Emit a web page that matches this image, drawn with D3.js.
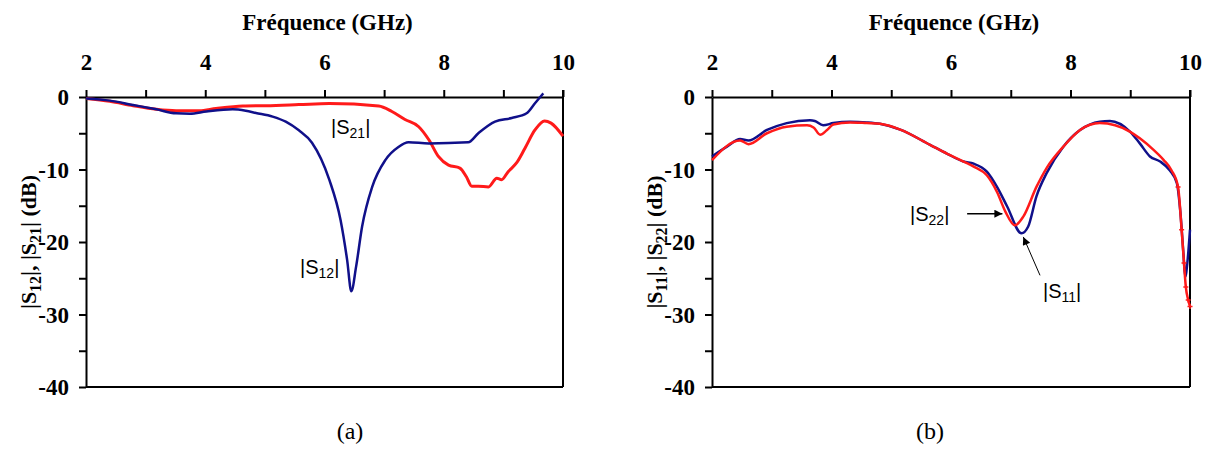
<!DOCTYPE html>
<html><head><meta charset="utf-8">
<script src="https://cdn.jsdelivr.net/npm/d3@7"></script>
<style>body{margin:0;background:#fff}</style>
</head><body>
<script>
// ---- data ----
const freqTicks = [2,3,4,5,6,7,8,9,10];
const dbTicks = [-40,-35,-30,-25,-20,-15,-10,-5,0];
const panelLabels = ["(a)","(b)"];
const axisTitle = "Fréquence (GHz)";

// (a) |S12| (blue)
const s12F = [2.0,2.4,2.79,3.18,3.51,3.74,4.02,4.46,4.68,4.85,5.13,5.35,5.57,5.79,6.08,6.27,6.38,6.45,6.53,6.63,6.80,7.02,7.24,7.41,7.75,8.41,8.58,8.86,9.14,9.39,9.53,9.67];
const s12V = [-0.2,-0.5,-1.1,-1.7,-2.25,-2.3,-2.0,-1.7,-1.9,-2.2,-2.7,-3.4,-4.6,-6.3,-11.4,-17.0,-22.5,-26.8,-23.4,-17.9,-12.4,-8.7,-6.9,-6.25,-6.4,-6.25,-5.0,-3.4,-2.9,-2.25,-0.87,0.5];
// (a) |S21| (red)
const s21F = [2.0,2.4,2.79,3.18,3.51,3.9,4.18,4.63,5.02,5.57,6.08,6.91,7.13,7.35,7.58,7.75,7.91,8.08,8.27,8.38,8.47,8.58,8.75,8.89,8.97,9.08,9.22,9.36,9.53,9.69,9.80,10.0];
const s21V = [-0.2,-0.6,-1.2,-1.7,-1.9,-1.9,-1.6,-1.25,-1.2,-1.05,-0.9,-1.24,-2.0,-3.1,-4.1,-5.9,-8.2,-9.4,-9.8,-11.0,-12.3,-12.3,-12.4,-11.2,-11.4,-10.3,-9.1,-7.1,-4.55,-3.3,-3.6,-5.4];
// (b) |S11| (blue)
const s11F = [2.0,2.25,2.47,2.61,2.92,3.25,3.64,3.72,3.86,4.03,4.31,4.59,4.81,5.15,5.65,5.93,6.21,6.38,6.60,6.77,6.94,7.18,7.29,7.43,7.60,7.88,8.16,8.49,8.66,9.0,9.16,9.33,9.50,9.66,9.78,9.84,9.89,9.92,9.96,10.0];
const s11V = [-8.2,-6.85,-5.8,-6.0,-4.55,-3.6,-3.2,-3.3,-3.9,-3.6,-3.4,-3.5,-3.7,-4.5,-6.6,-7.8,-8.9,-9.2,-10.3,-12.4,-15.1,-18.8,-17.9,-13.7,-10.5,-6.85,-4.55,-3.4,-3.3,-4.8,-6.4,-8.2,-8.9,-10.1,-11.9,-16.0,-21.6,-24.8,-22.5,-18.3];
// (b) |S22| (red)
const s22F = [2.0,2.47,2.61,2.92,3.25,3.59,3.70,3.81,3.92,4.03,4.31,4.59,4.81,5.15,5.65,5.93,6.21,6.38,6.60,6.77,6.91,7.07,7.21,7.43,7.60,7.88,8.16,8.49,9.0,9.16,9.39,9.56,9.69,9.80,9.86,9.90,9.93,9.97,10.0];
const s22V = [-8.7,-6.0,-6.5,-5.0,-4.1,-3.9,-4.2,-5.2,-4.6,-3.8,-3.5,-3.6,-3.7,-4.5,-6.6,-7.8,-8.9,-9.6,-10.8,-13.1,-15.8,-17.7,-16.5,-12.4,-9.8,-6.85,-4.55,-3.6,-4.8,-5.7,-7.3,-8.7,-10.1,-12.4,-18.3,-22.9,-26.2,-28.0,-28.9];

const blue = "#10108a", red = "#ff1a1a";
const W = 1211, H = 450;
const svg = d3.select("body").append("svg").attr("width", W).attr("height", H);
const serif = '"Liberation Serif"';
const sans = '"Liberation Sans"';

const y = d3.scaleLinear().domain([-40, 0]).range([387, 97]);

function panel(x0, x1, series, yTitleParts, panelLabel, labelX) {
  const x = d3.scaleLinear().domain([2, 10]).range([x0, x1]);
  const g = svg.append("g");
  g.append("line").attr("x1", x1).attr("x2", x1).attr("y1", y(0) - 7).attr("y2", y(-40)).attr("stroke", "#000").attr("stroke-width", 2);
  g.append("line").attr("x1", x0).attr("x2", x1).attr("y1", y(-40)).attr("y2", y(-40)).attr("stroke", "#000").attr("stroke-width", 2);
  const ax = g.append("g").attr("transform", `translate(0,${y(0)})`)
    .call(d3.axisTop(x).tickValues(freqTicks).tickSize(7).tickSizeOuter(0).tickPadding(20)
      .tickFormat(d => d % 2 === 0 ? d : ""));
  const ay = g.append("g").attr("transform", `translate(${x0},0)`)
    .call(d3.axisLeft(y).tickValues(dbTicks).tickSize(7).tickSizeOuter(0).tickPadding(10)
      .tickFormat(d => d % 10 === 0 ? d : ""));
  [ax, ay].forEach(a => {
    a.attr("font-family", null).attr("font-size", null);
    a.select(".domain").attr("stroke", "#000").attr("stroke-width", 2);
    a.selectAll(".tick line").attr("stroke", "#000").attr("stroke-width", 2);
    a.selectAll(".tick text").style("font-family", serif).style("font-weight", "bold")
      .style("font-size", "23px").attr("fill", "#000");
  });
  ay.selectAll(".tick text").attr("dy", "0.34em");
  g.append("text").attr("x", (x0 + x1) / 2 + 3).attr("y", 30).attr("text-anchor", "middle")
    .style("font-family", serif).style("font-weight", "bold").style("font-size", "23px").text(axisTitle);
  const yt = g.append("text").attr("transform", `translate(${x0 - 50},${(y(0) + y(-40)) / 2}) rotate(-90)`)
    .attr("text-anchor", "middle").style("font-family", serif).style("font-weight", "bold").style("font-size", "22px");
  yTitleParts.forEach(p => {
    yt.append("tspan").style("font-size", p.sub ? "16px" : "22px").attr("dy", p.sub ? 5 : (p.after ? -5 : 0)).text(p.t);
  });
  g.append("text").attr("x", labelX).attr("y", 439).attr("text-anchor", "middle")
    .style("font-family", serif).style("font-size", "24px").text(panelLabel);
  const line = d3.line().x(d => x(d[0])).y(d => y(d[1])).curve(d3.curveMonotoneX);
  series.forEach(s => {
    g.append("path").datum(d3.zip(s.f, s.v)).attr("d", line).attr("fill", "none")
      .attr("stroke", s.color).attr("stroke-width", s.w).attr("stroke-linejoin", "round");
    if (s.markFrom) {
      d3.zip(s.f, s.v).filter(d => d[0] >= s.markFrom).forEach(d => {
        g.append("path").attr("transform", `translate(${x(d[0])},${y(d[1])})`)
          .attr("d", "M-2.5,0H2.5M0,-2.5V2.5").attr("stroke", s.color).attr("stroke-width", 1.5);
      });
    }
  });
  return {g, x};
}

function label(g, xx, yy, main, sub) {
  const t = g.append("text").attr("x", xx).attr("y", yy).style("font-family", sans)
    .style("font-size", "20px").attr("fill", "#000");
  t.append("tspan").text("|" + main);
  t.append("tspan").style("font-size", "14px").attr("dy", 4).text(sub);
  t.append("tspan").attr("dy", -4).text("|");
  return t;
}

const yA = [{t:"|S"},{t:"12",sub:true},{t:"|, |S",after:true},{t:"21",sub:true},{t:"| (dB)",after:true}];
const yB = [{t:"|S"},{t:"11",sub:true},{t:"|, |S",after:true},{t:"22",sub:true},{t:"| (dB)",after:true}];

const pa = panel(86, 563, [
  {f: s21F, v: s21V, color: red, w: 3},
  {f: s12F, v: s12V, color: blue, w: 2.5}
], yA, panelLabels[0], 350);
const pb = panel(712, 1190, [
  {f: s11F, v: s11V, color: blue, w: 2.5},
  {f: s22F, v: s22V, color: red, w: 2.5, markFrom: 9.78}
], yB, panelLabels[1], 930);

label(pa.g, 331, 134, "S", "21");
label(pa.g, 300, 274, "S", "12");
label(pb.g, 910, 221, "S", "22");
label(pb.g, 1043, 298, "S", "11");

const defs = svg.append("defs");
defs.append("marker").attr("id", "ah").attr("viewBox", "0 0 10 10").attr("refX", 10).attr("refY", 5)
  .attr("markerWidth", 10).attr("markerHeight", 8).attr("markerUnits", "userSpaceOnUse").attr("orient", "auto")
  .append("path").attr("d", "M0,0L10,5L0,10Z").attr("fill", "#000");
pb.g.append("line").attr("x1", pb.x(6.27)).attr("y1", y(-16.1)).attr("x2", pb.x(6.86)).attr("y2", y(-16.1))
  .attr("stroke", "#000").attr("stroke-width", 1.5).attr("marker-end", "url(#ah)");
pb.g.append("line").attr("x1", pb.x(7.49)).attr("y1", y(-24.6)).attr("x2", pb.x(7.21)).attr("y2", y(-19.3))
  .attr("stroke", "#000").attr("stroke-width", 1).attr("marker-end", "url(#ah)");
</script>
</body></html>
